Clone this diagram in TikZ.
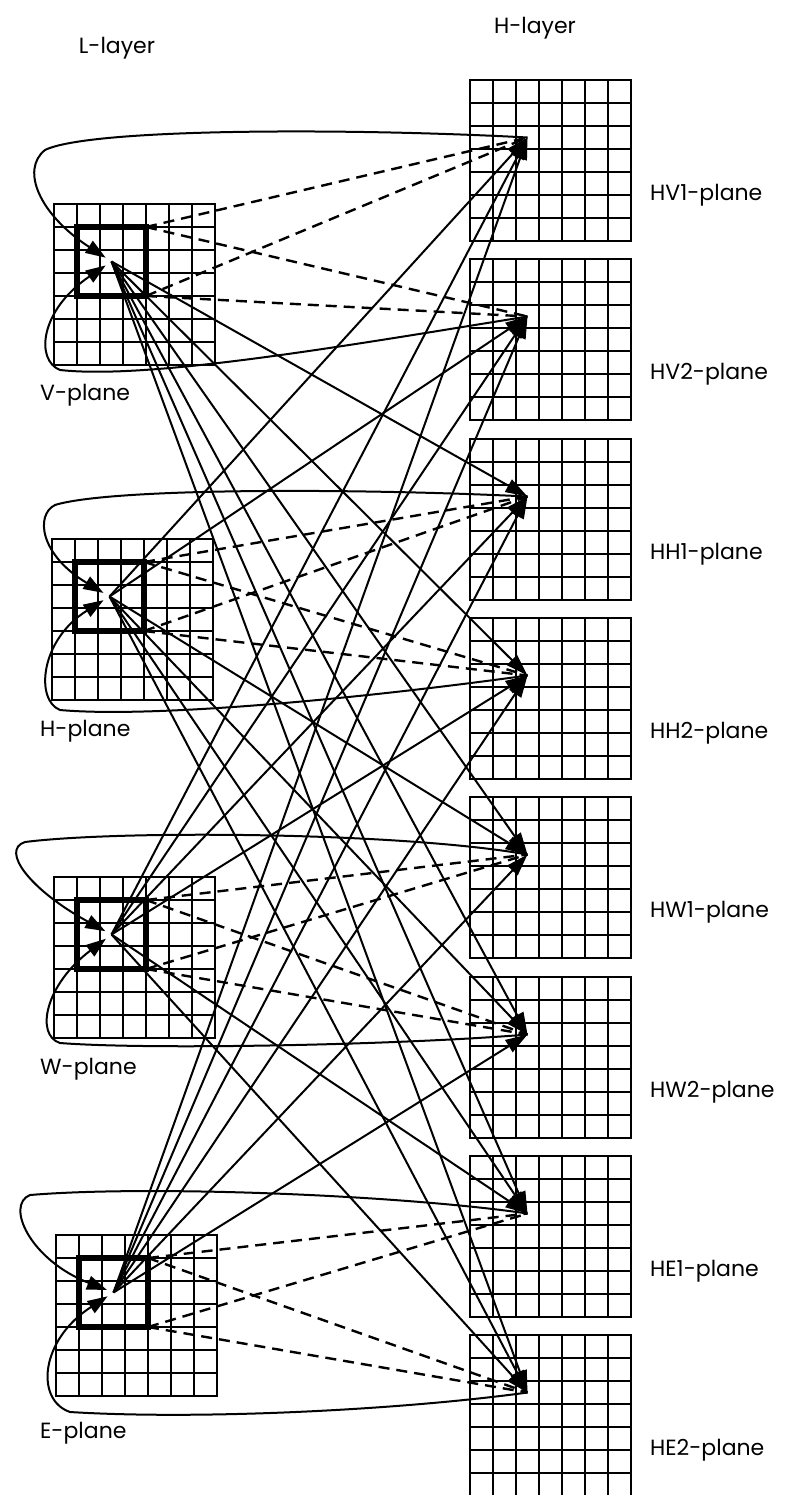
\documentclass[tikz,border=0pt]{standalone}
\usepackage{fontspec}
\setmainfont{Poppins}
\usetikzlibrary{arrows.meta}

\tikzset{
  gridline/.style={line width=2.8pt},
  frameline/.style={line width=2.8pt},
  window/.style={line width=5.5pt},
  feed/.style={line width=2pt, -{Triangle[length=22pt,width=14pt]}},
  field/.style={line width=2.4pt, dash pattern=on 11pt off 7pt},
  loopback/.style={line width=2pt, -{Triangle[length=20pt,width=14pt]}, shorten >=7pt},
  lbl/.style={font=\fontsize{22}{26}\selectfont, inner sep=0pt},
  cells/.pic={
    \foreach \i in {1,...,6} {
      \draw[gridline] (\i*23,0) -- (\i*23,161);
      \draw[gridline] (0,\i*23) -- (161,\i*23);
    }
    \draw[frameline] (0,0) rectangle (161,161);
  },
  hplane/.pic={
    \pic {cells};
    \coordinate (-c) at (57.5,57.5);
  },
  lplane/.pic={
    \pic {cells};
    \draw[window] (23,23) rectangle (92,92);
    \coordinate (-ne) at (92,23);
    \coordinate (-se) at (92,92);
    \coordinate (-c) at (57.5,57.5);
  }
}

\begin{document}
\begin{tikzpicture}[x=1pt,y=-1pt]
    \useasboundingbox (0,0) rectangle (784,1495);
    %
    \node[lbl] (Llayer) at (117,48) {L-layer};
    \node[lbl] (Hlayer) at (535,28) {H-layer};
    %
    \pic (LV) at (54,204) {lplane};
    \pic (LH) at (52,539) {lplane};
    \pic (LW) at (54,877) {lplane};
    \pic (LE) at (56,1235) {lplane};
    \node[lbl, anchor=west] (LV-lbl) at (40,395) {V-plane};
    \node[lbl, anchor=west] (LH-lbl) at (40,731) {H-plane};
    \node[lbl, anchor=west] (LW-lbl) at (40,1069) {W-plane};
    \node[lbl, anchor=west] (LE-lbl) at (40,1433) {E-plane};
    %
    \foreach \n/\top in {V1/80, V2/259, H1/439, H2/618, W1/797, W2/977, E1/1156, E2/1335} {
        \pic (H\n) at (470,\top) {hplane};
        \node[lbl, anchor=west] (H\n-lbl) at (650,\top+115) {H\n-plane};
    }
    %
    \foreach \l [count=\i] in {V,H,W,E} {
        \foreach \h [count=\j] in {V,H,W,E} {
            \ifnum\i=\j\relax\else
                \draw[feed] (L\l-c) -- (H\h1-c);
                \draw[feed] (L\l-c) -- (H\h2-c);
            \fi
        }
    }
    %
    \foreach \l in {V,H,W,E} {
        \draw[field] (L\l-ne) -- (H\l1-c);
        \draw[field] (L\l-ne) -- (H\l2-c);
        \draw[field] (L\l-se) -- (H\l1-c);
        \draw[field] (L\l-se) -- (H\l2-c);
    }
    %
    \draw[loopback] (HV1-c) .. controls (350,128) and (90,128) .. (45,150) .. controls (20,170) and (40,215) .. (LV-c);
    \draw[loopback] (HV2-c) .. controls (350,345) and (150,380) .. (60,370) .. controls (35,360) and (40,310) .. (LV-c);
    %
    \draw[loopback] (HH1-c) .. controls (350,488) and (110,488) .. (55,505) .. controls (35,515) and (40,555) .. (LH-c);
    \draw[loopback] (HH2-c) .. controls (350,700) and (150,718) .. (60,710) .. controls (35,700) and (40,640) .. (LH-c);
    %
    \draw[loopback] (HW1-c) .. controls (400,832) and (120,830) .. (25,842) .. controls (0,850) and (30,890) .. (LW-c);
    \draw[loopback] (HW2-c) .. controls (400,1045) and (150,1050) .. (60,1043) .. controls (35,1035) and (45,985) .. (LW-c);
    %
    \draw[loopback] (HE1-c) .. controls (400,1195) and (150,1185) .. (30,1195) .. controls (5,1205) and (30,1260) .. (LE-c);
    \draw[loopback] (HE2-c) .. controls (400,1410) and (200,1420) .. (70,1412) .. controls (35,1400) and (40,1340) .. (LE-c);
\end{tikzpicture}
\end{document}
